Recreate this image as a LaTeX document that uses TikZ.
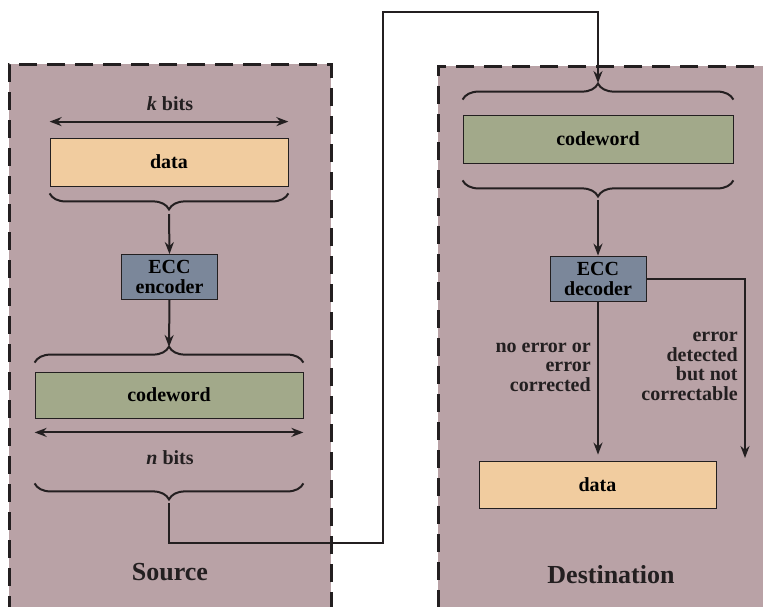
\documentclass[tikz,border=0pt]{standalone}
\usepackage{fontspec}
\setmainfont{Liberation Serif}
\usepackage{tikz}
\usetikzlibrary{arrows.meta, positioning, calc, decorations.pathreplacing}
\definecolor{mydark}{RGB}{35,31,32}
\definecolor{panelmauve}{RGB}{185,162,166}
\definecolor{datapeach}{RGB}{241,204,159}
\definecolor{cwolive}{RGB}{162,169,138}
\definecolor{eccslate}{RGB}{123,135,154}
\tikzset{
  panel/.style={rectangle, fill=panelmauve, draw=mydark, line width=2.5pt,
    dash pattern=on 18pt off 10pt, inner sep=0pt},
  databox/.style={rectangle, draw=mydark, fill=datapeach,
    minimum width=238pt, minimum height=48pt, line width=0.8pt,
    font=\fontsize{20}{20}\selectfont\bfseries},
  cwbox/.style={rectangle, draw=mydark, fill=cwolive,
    minimum width=268pt, minimum height=46pt, line width=0.8pt,
    font=\fontsize{20}{20}\selectfont\bfseries},
  eccbox/.style={rectangle, draw=mydark, fill=eccslate,
    minimum width=96pt, minimum height=45pt, inner sep=0pt, align=center,
    line width=0.8pt, font=\fontsize{20}{20}\selectfont\bfseries},
  lbl/.style={text=mydark, font=\fontsize{20}{19.5}\selectfont\bfseries},
  title/.style={text=mydark, font=\fontsize{26}{26}\selectfont\bfseries},
  arrow/.style={-{Stealth[length=12pt, width=9pt]}, line width=2pt, color=mydark},
  dimarrow/.style={{Stealth[length=12pt, width=9pt]}-{Stealth[length=12pt, width=9pt]},
    line width=2pt, color=mydark},
  line/.style={line width=2pt, color=mydark},
  bracket/.style={decorate, decoration={brace, amplitude=16pt},
    line width=2pt, color=mydark}
}

\begin{document}
\begin{tikzpicture}[x=1pt, y=-1pt]
  \useasboundingbox (0,0) rectangle (763,606);
  \clip (0,0) rectangle (763,606);

  % the two sides
  \node[panel, anchor=north west, minimum width=322pt, minimum height=560pt] (src) at (8,63) {};
  \node[panel, anchor=north west, minimum width=340pt, minimum height=560pt] (dst) at (437,65) {};
  \node[title] (srcname) at (170,572) {Source};
  \node[title] (dstname) at (611,575) {Destination};

  % source side
  \node[databox] (sdata) at (169,162) {data};
  \node[lbl] (kbits) at (170,104) {{\itshape k} bits};
  \node[eccbox] (enc) at (169.5,277) {ECC\\encoder};
  \node[cwbox] (scw) at (169,395) {codeword};
  \node[lbl] (nbits) at (170,458) {{\itshape n} bits};

  \coordinate (kl) at ($(sdata.north west)+(0,-16)$);
  \coordinate (kr) at ($(sdata.north east)+(0,-16)$);
  \draw[dimarrow] (kl) -- (kr);
  \coordinate (nl) at ($(scw.south west)+(0,14)$);
  \coordinate (nr) at ($(scw.south east)+(0,14)$);
  \draw[dimarrow] (nl) -- (nr);

  \draw[bracket] ($(sdata.south east)+(0,7)$) -- ($(sdata.south west)+(0,7)$);
  \coordinate (dtip) at (169,214);
  \draw[arrow] (dtip) -- (enc.north);
  \draw[bracket] ($(scw.north west)+(0,-9)$) -- ($(scw.north east)+(0,-9)$);
  \coordinate (cwtip) at (169,347);
  \draw[arrow] (enc.south) -- (cwtip);
  \draw[bracket] ($(scw.south east)+(0,65)$) -- ($(scw.south west)+(0,65)$);

  % the wire across
  \coordinate (ntip) at (169,503);
  \coordinate (wirelow) at (383,543);
  \coordinate (wirehigh) at (383,12);
  \coordinate (rtip) at (598,83);
  \draw[arrow] (ntip) |- (wirelow) -- (wirehigh) -| (rtip);

  % destination side
  \node[cwbox, minimum width=270pt, minimum height=48pt] (dcw) at (598,139) {codeword};
  \node[eccbox] (dec) at (598,278.5) {ECC\\decoder};
  \node[databox, minimum width=237pt, minimum height=47pt] (ddata) at (597.5,484.5) {data};

  \draw[bracket] ($(dcw.north west)+(0,-15)$) -- ($(dcw.north east)+(0,-15)$);
  \draw[bracket] ($(dcw.south east)+(0,17)$) -- ($(dcw.south west)+(0,17)$);
  \coordinate (cwout) at (598,200);
  \draw[arrow] (cwout) -- (dec.north);

  \draw[arrow] (dec.south) -- node[lbl, pos=0.43, left=3pt, align=right]
    {no error or\\error\\corrected} ($(ddata.north)+(0.5,-6)$);
  \coordinate (errend) at (745,458);
  \draw[arrow] (dec.east) -| node[lbl, pos=0.745, left=3pt, align=right]
    {error\\detected\\but not\\correctable} (errend);
\end{tikzpicture}
\end{document}
